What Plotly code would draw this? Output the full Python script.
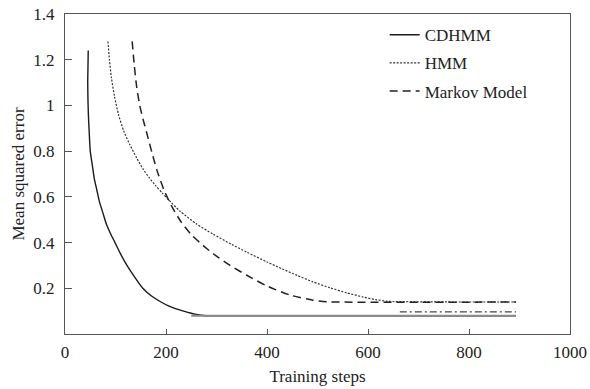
import plotly.graph_objects as go

# CDHMM (solid)
cdhmm_steps = [46, 45.5, 45, 45.5, 46.5, 48, 50, 54, 58, 63, 68, 75, 82, 90, 99, 109, 120, 136, 154, 172, 190, 205, 220, 235, 248, 260, 270, 280, 893]
cdhmm_values = [1.24, 1.17, 1.1, 1.02, 0.95, 0.88, 0.8, 0.74, 0.68, 0.63, 0.58, 0.53, 0.48, 0.44, 0.4, 0.355, 0.31, 0.255, 0.2, 0.165, 0.14, 0.123, 0.11, 0.1, 0.092, 0.086, 0.082, 0.08, 0.08]

# HMM (dotted)
hmm_steps = [85, 88, 92, 98, 106, 116, 128, 142, 155, 167, 180, 192, 204, 228, 260, 293, 330, 360, 400, 430, 460, 491, 525, 558, 590, 615, 640, 893]
hmm_values = [1.28, 1.2, 1.12, 1.04, 0.96, 0.89, 0.83, 0.77, 0.72, 0.683, 0.648, 0.618, 0.59, 0.537, 0.482, 0.437, 0.392, 0.358, 0.315, 0.285, 0.256, 0.228, 0.202, 0.18, 0.162, 0.15, 0.143, 0.14]

# Markov Model (dashed)
markov_steps = [133, 137, 142, 148, 155, 163, 172, 182, 196, 212, 230, 250, 280, 305, 327, 360, 400, 446, 491, 520, 893]
markov_values = [1.28, 1.18, 1.08, 1.0, 0.936, 0.87, 0.795, 0.717, 0.63, 0.556, 0.49, 0.435, 0.375, 0.333, 0.3, 0.257, 0.21, 0.17, 0.148, 0.141, 0.14]

# extra unlabeled plateau lines
extra_steps = [663, 893]
extra_values = [0.097, 0.097]
base_steps = [250, 893]
base_values = [0.08, 0.08]

x_ticks = [0, 200, 400, 600, 800, 1000]
y_ticks = [0.2, 0.4, 0.6, 0.8, 1.0, 1.2, 1.4]
y_ticktext = ["0.2", "0.4", "0.6", "0.8", "1", "1.2", "1.4"]

FONT = "Liberation Serif, Times New Roman, serif"
FS = 17

fig = go.Figure()
fig.add_trace(go.Scatter(x=cdhmm_steps, y=cdhmm_values, mode="lines", name="CDHMM",
                         legendgroup="a", line=dict(color="#1a1a1a", width=1.4, shape="spline", smoothing=0.6)))
fig.add_trace(go.Scatter(x=hmm_steps, y=hmm_values, mode="lines", name="HMM",
                         legendgroup="b", line=dict(color="#333333", width=1.2, dash="2px,1.5px", shape="spline", smoothing=0.6)))
fig.add_trace(go.Scatter(x=markov_steps, y=markov_values, mode="lines", name="Markov Model",
                         legendgroup="c", line=dict(color="#222222", width=1.5, dash="8px,5px", shape="spline", smoothing=0.6)))
fig.add_trace(go.Scatter(x=extra_steps, y=extra_values, mode="lines", showlegend=False,
                         line=dict(color="#444444", width=1.3, dash="7px,3px,2px,3px")))
fig.add_trace(go.Scatter(x=base_steps, y=base_values, mode="lines", showlegend=False,
                         line=dict(color="#8a8a8a", width=2)))

axis_common = dict(showgrid=False, zeroline=False, showline=True, linecolor="#555555",
                   linewidth=1, mirror=True, ticks="inside", tickcolor="#555555",
                   automargin=False,
                   tickfont=dict(family=FONT, size=FS, color="#222222"))

fig.update_xaxes(range=[0, 1000], tickvals=x_ticks, ticklen=5, ticklabelstandoff=3, **axis_common,
                 title=dict(text="Training steps", font=dict(family=FONT, size=FS, color="#222222"),
                            standoff=8))
fig.update_yaxes(range=[0, 1.4], tickvals=y_ticks, ticktext=y_ticktext, ticklen=7,
                 ticklabelstandoff=6, **axis_common,
                 title=dict(text="Mean squared error", font=dict(family=FONT, size=FS, color="#222222"),
                            standoff=4))

fig.update_layout(
    width=590, height=389,
    margin=dict(l=65, r=20, t=14, b=55),
    paper_bgcolor="white", plot_bgcolor="white",
    font=dict(family=FONT, size=FS, color="#222222"),
    legend=dict(x=0.633, y=0.99, xanchor="left", yanchor="top", bgcolor="rgba(0,0,0,0)",
                borderwidth=0, tracegroupgap=3, font=dict(family=FONT, size=FS, color="#222222")),
)

fig.write_html("out.html", config={"displayModeBar": False},
               post_script="document.body.style.margin='0';")
